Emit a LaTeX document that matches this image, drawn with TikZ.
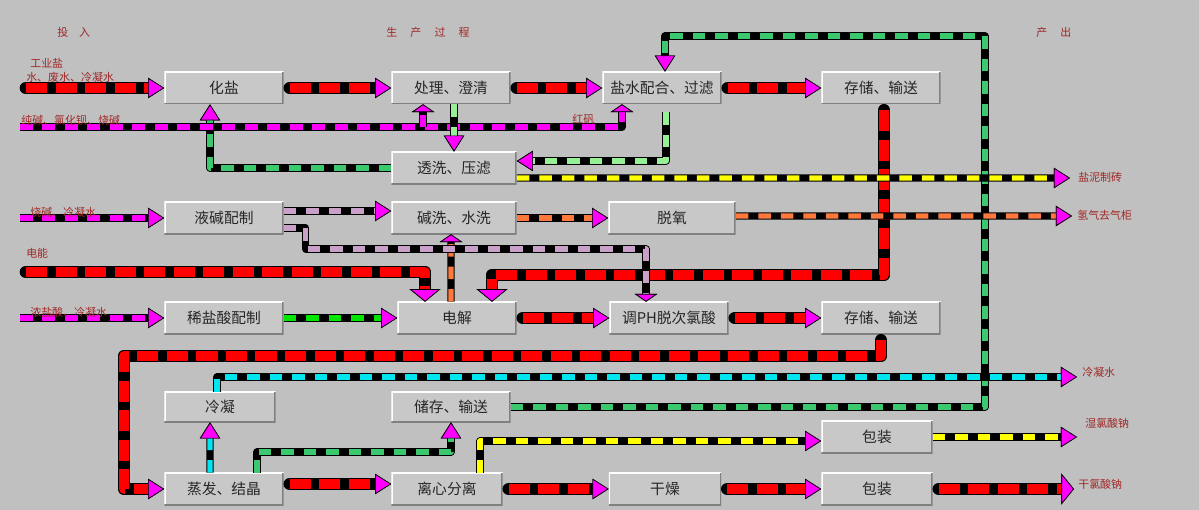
\documentclass[tikz,border=0pt]{standalone}
\usepackage{fontspec}
\setmainfont{Noto Sans CJK SC}
\usetikzlibrary{arrows.meta}

\definecolor{bggray}{RGB}{192,192,192}
\definecolor{boxgray}{RGB}{200,200,200}
\definecolor{boxshade}{RGB}{128,128,128}
\definecolor{lblred}{RGB}{160,40,40}
\definecolor{tipmag}{RGB}{255,0,255}
\definecolor{pred}{RGB}{255,0,0}
\definecolor{pmag}{RGB}{255,0,255}
\definecolor{plgreen}{RGB}{150,240,150}
\definecolor{pgreen}{RGB}{60,200,110}
\definecolor{pbgreen}{RGB}{0,230,0}
\definecolor{pyellow}{RGB}{255,255,0}
\definecolor{ppurple}{RGB}{200,160,200}
\definecolor{porange}{RGB}{255,120,60}
\definecolor{pcyan}{RGB}{0,230,240}

\tikzset{
  box/.style={fill=boxgray, minimum width=2.975cm, minimum height=0.8cm, inner sep=0pt,
    font=\fontsize{10.5}{12}\selectfont, text=black!85,
    path picture={
      \draw[white, line width=2pt] (path picture bounding box.south west)
        -- (path picture bounding box.north west) -- (path picture bounding box.north east);
      \draw[boxshade, line width=2pt] (path picture bounding box.south west)
        -- (path picture bounding box.south east) -- (path picture bounding box.north east);}},
  lbl/.style={text=lblred, font=\fontsize{7.8}{9}\selectfont, inner sep=0pt, anchor=west},
  pipe/.style={draw=black, line width=5pt, line join=round,
    postaction={draw=#1, line width=3.6pt, dash pattern=on 9pt off 7pt}},
  bigpipe/.style={draw=black, line width=9pt, line join=round, line cap=round, shorten <=1.5mm,
    postaction={draw=#1, line width=6.5pt, line cap=butt, dash pattern=on 15pt off 6pt}},
  tipshape/.style 2 args={-{Triangle[length=#1, width=#2, fill=tipmag, color=black, line width=0.5pt]}},
  magtip/.style={tipshape={11.5pt}{14.5pt}},
  flattip/.style={tipshape={5.5pt}{16pt}},
  widetip/.style={tipshape={9pt}{22pt}}
}

\begin{document}
\begin{tikzpicture}[x=0.025cm, y=-0.025cm]
  \fill[bggray] (0,0) rectangle (1199,510);
  \useasboundingbox (0,0) rectangle (1199,510);

  % process boxes
  \node[box] (huayan) at (224,88) {化盐};
  \node[box] (chuli) at (451,88) {处理、澄清};
  \node[box] (peihe) at (662,88) {盐水配合、过滤};
  \node[box] (cunchu1) at (881,88) {存储、输送};
  \node[box, minimum width=3.125cm] (touxi) at (454,168) {透洗、压滤};
  \node[box] (yejian) at (224,218) {液碱配制};
  \node[box, minimum width=3.125cm] (jianxi) at (454,218) {碱洗、水洗};
  \node[box, minimum width=3.175cm] (tuoyang) at (672,218) {脱氧};
  \node[box] (xiyan) at (224,318) {稀盐酸配制};
  \node[box] (dianjie) at (457,318) {电解};
  \node[box] (tiaoph) at (669,318) {调PH脱次氯酸};
  \node[box] (cunchu2) at (881,318) {存储、输送};
  \node[box, minimum width=2.775cm, minimum height=0.75cm] (lengning) at (220,407) {冷凝};
  \node[box, minimum height=0.75cm] (chucun) at (451,407) {储存、输送};
  \node[box, minimum width=2.775cm] (baozhuang1) at (877,437) {包装};
  \node[box] (zhengfa) at (224,489) {蒸发、结晶};
  \node[box, minimum width=2.775cm] (lixin) at (447,489) {离心分离};
  \node[box, minimum width=2.8cm] (ganzao) at (665,489) {干燥};
  \node[box, minimum width=2.775cm] (baozhuang2) at (877,489) {包装};

  % inputs and outputs
  \coordinate (inyan) at (20,88);
  \coordinate (injian) at (20,127);
  \coordinate (inshao) at (20,218);
  \coordinate (indian) at (20,272);
  \coordinate (insuan) at (20,318);
  \coordinate (outni) at (1070,178);
  \coordinate (outqing) at (1072,216);
  \coordinate (outleng) at (1077,377);
  \coordinate (outshi) at (1077,437);
  \coordinate (outgan) at (1074,489);

  % brine and salt (red)
  \draw[bigpipe=pred, magtip] (inyan) -- (huayan.west);
  \draw[bigpipe=pred, magtip] (huayan.east) -- (chuli.west);
  \draw[bigpipe=pred, magtip] (chuli.east) -- (peihe.west);
  \draw[bigpipe=pred, magtip] (peihe.east) -- (cunchu1.west);
  \draw[bigpipe=pred, widetip] (cunchu1.south) ++(3,0) |- (492,275) -- (492,0 |- dianjie.north);
  \draw[bigpipe=pred, widetip] (indian) -| (425,0 |- dianjie.north);
  \draw[bigpipe=pred, magtip] (dianjie.east) -- (tiaoph.west);
  \draw[bigpipe=pred, magtip] (tiaoph.east) -- (cunchu2.west);
  \draw[bigpipe=pred, magtip] (cunchu2.south) |- (124,356) |- (zhengfa.west);
  \draw[bigpipe=pred, magtip] ([yshift=0.125cm]zhengfa.east) -- ([yshift=0.125cm]lixin.west);
  \draw[bigpipe=pred, magtip] (lixin.east) -- (ganzao.west);
  \draw[bigpipe=pred, magtip] (ganzao.east) -- (baozhuang2.west);
  \draw[bigpipe=pred, widetip] (baozhuang2.east) -- (outgan);

  % green return lines
  \draw[pipe=pgreen, magtip] (chucun.east) -| (985,36) -| ([xshift=0.075cm]peihe.north);
  \draw[pipe=pgreen, magtip] (touxi.west) -| ([xshift=-0.35cm]huayan.south);
  \draw[pipe=pgreen, magtip] (zhengfa.north) ++(33,0) |- (451,452) -- (chucun.south);

  % chemicals (magenta)
  \draw[pipe=pmag, flattip] (injian) -| ([xshift=-1cm]peihe.south);
  \draw[pipe=pmag, flattip] ([xshift=-0.7cm]chuli.south) ++(0,23) -- ([xshift=-0.7cm]chuli.south);
  \draw[pipe=plgreen, magtip] (touxi.north |- chuli.south) -- (touxi.north);
  \draw[pipe=plgreen, magtip] (peihe.south) ++(4,8) |- ([yshift=0.175cm]touxi.east);
  \draw[pipe=pyellow, magtip] ([yshift=-0.25cm]touxi.east) -- (outni);

  % caustic and hydrogen
  \draw[pipe=pmag, magtip] (inshao) -- (yejian.west);
  \draw[pipe=porange, flattip] ([xshift=-0.15cm]dianjie.north) -- ([xshift=-0.075cm]jianxi.south);
  \draw[pipe=ppurple, magtip] ([yshift=0.175cm]yejian.east) -- ([yshift=0.175cm]jianxi.west);
  \draw[pipe=ppurple, flattip] ([yshift=-0.25cm]yejian.east) -- ++(22,0) |- (646,249) -- (646,0 |- tiaoph.north);
  \draw[pipe=porange, magtip] (jianxi.east) -- (tuoyang.west);
  \draw[pipe=porange, magtip] ([yshift=0.05cm]tuoyang.east) -- (outqing);
  \draw[pipe=pmag, magtip] (insuan) -- (xiyan.west);
  \draw[pipe=pbgreen, magtip] (xiyan.east) -- (dianjie.west);

  % condensate and product
  \draw[pipe=pcyan, magtip] ([xshift=-0.075cm]lengning.north) |- (outleng);
  \draw[pipe=pcyan, magtip] ([xshift=-0.35cm]zhengfa.north) -- (210,0 |- lengning.south);
  \draw[pipe=pyellow, magtip] (lixin.north) ++(33,0) |- ([yshift=-0.1cm]baozhuang1.west);
  \draw[pipe=pyellow, magtip] (baozhuang1.east) -- (outshi);

  % labels
  \node[lbl] (ltouru) at (57,32) {投\hspace{1em}入};
  \node[lbl] (lguocheng) at (386,32) {生\hspace{1.2em}产\hspace{1.2em}过\hspace{1.2em}程};
  \node[lbl] (lchanchu) at (1036,32) {产\hspace{1.2em}出};
  \node[lbl] (lgongye) at (30,63) {工业盐};
  \node[lbl] (lshui) at (26,77) {水、废水、冷凝水};
  \node[lbl] (lchun) at (21,120) {纯碱、氯化钡、烧碱};
  \node[lbl] (lhongfan) at (572,119) {红矾};
  \node[lbl] (lshaojian) at (30,212) {烧碱、冷凝水};
  \node[lbl] (ldianneng) at (26,253) {电能};
  \node[lbl] (lnongyan) at (30,312) {浓盐酸、冷凝水};
  \node[lbl] (lyanni) at (1078,177) {盐泥制砖};
  \node[lbl] (lqingqi) at (1077,215) {氢气去气柜};
  \node[lbl] (llengning) at (1082,372) {冷凝水};
  \node[lbl] (lshi) at (1085,423) {湿氯酸钠};
  \node[lbl] (lgan) at (1078,484) {干氯酸钠};
\end{tikzpicture}
\end{document}
